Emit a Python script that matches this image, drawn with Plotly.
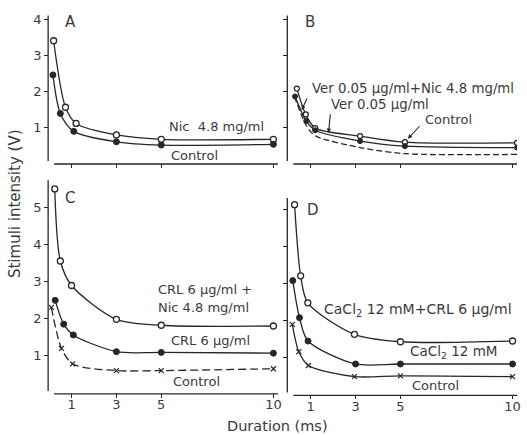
import plotly.graph_objects as go

W, H = 527, 435

# ---------------- data ----------------
# Panel A
a_nic_x = [0.2, 0.73, 1.2, 3, 5, 10]
a_nic_y = [3.4, 1.55, 1.1, 0.78, 0.66, 0.66]
a_ctl_x = [0.17, 0.5, 1.1, 3, 5, 10]
a_ctl_y = [2.45, 1.38, 0.88, 0.59, 0.5, 0.52]
# Panel B
b_top_x = [0.38, 0.78, 1.2, 3.2, 5.2, 10.2]
b_top_y = [2.07, 1.35, 0.97, 0.75, 0.58, 0.56]
b_mid_x = [0.3, 0.8, 1.2, 3.2, 5.2, 10.2]
b_mid_y = [1.85, 1.17, 0.91, 0.61, 0.47, 0.43]
b_low_x = [0.27, 0.8, 1.2, 3.2, 5.2, 10.2]
b_low_y = [1.85, 1.05, 0.76, 0.43, 0.26, 0.24]
# Panel C
c_comb_x = [0.25, 0.5, 1.0, 3, 5, 10]
c_comb_y = [5.49, 3.55, 2.89, 1.98, 1.82, 1.8]
c_crl_x = [0.27, 0.65, 1.08, 3, 5, 10]
c_crl_y = [2.49, 1.85, 1.56, 1.11, 1.09, 1.07]
c_ctl_x = [0.1, 0.55, 1.05, 3, 5, 10]
c_ctl_y = [2.3, 1.2, 0.78, 0.6, 0.6, 0.65]
# Panel D
d_comb_x = [0.28, 0.55, 0.87, 2.95, 5, 10]
d_comb_y = [5.12, 3.2, 2.47, 1.62, 1.42, 1.44]
d_ca_x = [0.2, 0.5, 0.88, 3, 5, 10]
d_ca_y = [3.07, 2.07, 1.44, 0.82, 0.82, 0.82]
d_ctl_x = [0.18, 0.47, 0.9, 2.95, 5, 10]
d_ctl_y = [1.89, 1.15, 0.78, 0.48, 0.5, 0.48]

x_ticks = [1, 3, 5, 10]
y_ticks_top = [1, 2, 3, 4]
y_ticks_bot = [1, 2, 3, 4, 5]

INK = "#262626"
TXT = "#3a3a3a"
FONT = "DejaVu Sans"

fig = go.Figure()


def add(xs, ys, ax, kind, dash="solid", msize=6):
    if kind == "open":
        marker = dict(symbol="circle", size=msize, color="white", line=dict(color=INK, width=1.3))
    elif kind == "closed":
        marker = dict(symbol="circle", size=msize, color=INK, line=dict(color=INK, width=1))
    elif kind == "x":
        marker = dict(symbol="x-thin", size=msize, color=INK, line=dict(color=INK, width=1.2))
    else:
        marker = None
    fig.add_trace(go.Scatter(
        x=xs, y=ys, xaxis="x" + ax, yaxis="y" + ax,
        mode="lines+markers" if marker else "lines",
        line=dict(color=INK, width=1.3, shape="spline", smoothing=0.8, dash=dash),
        marker=marker, showlegend=False, hoverinfo="skip"))


add(a_nic_x, a_nic_y, "", "open")
add(a_ctl_x, a_ctl_y, "", "closed")
add(b_top_x, b_top_y, "2", "open", msize=5)
add(b_mid_x, b_mid_y, "2", "closed", msize=5)
add(b_low_x, b_low_y, "2", None, dash="6px,3px")
add(c_comb_x, c_comb_y, "3", "open")
add(c_crl_x, c_crl_y, "3", "closed")
add(c_ctl_x, c_ctl_y, "3", "x", dash="8px,4px", msize=5)
add(d_comb_x, d_comb_y, "4", "open")
add(d_ca_x, d_ca_y, "4", "closed")
add(d_ctl_x, d_ctl_y, "4", "x", msize=5)

# ---------------- layout geometry (pixels) ----------------
XR = 10.2
UX = 22.6
panels = {
    # name: (x0px, y0px(bottom), unit_y, ymax)
    "": (49.5, 160.5, 36.3, 4.1),
    "2": (290.5, 160.5, 36.3, 4.1),
    "3": (49.5, 392.5, 37.5, 5.72),
    "4": (290.5, 394.0, 37.4, 5.3),
}

layout = dict(width=W, height=H, margin=dict(l=0, r=0, t=0, b=0),
              paper_bgcolor="white", plot_bgcolor="white",
              font=dict(family=FONT, color=TXT, size=13))
shapes = []
for name, (x0, yb, uy, ymax) in panels.items():
    x1 = x0 + UX * XR
    yt = yb - uy * ymax
    bottom = name in ("3", "4")
    left = name in ("", "3")
    layout["xaxis" + name] = dict(
        domain=[x0 / W, x1 / W], range=[0, XR], anchor="y" + name,
        showgrid=False, zeroline=False, showline=False,
        tickmode="array", tickvals=x_ticks, ticks="outside", ticklen=4,
        tickwidth=1.2, tickcolor=INK, showticklabels=bottom, ticklabelstandoff=-4,
        tickfont=dict(size=13, family=FONT, color=TXT))
    layout["yaxis" + name] = dict(
        domain=[1 - yb / H, 1 - yt / H], range=[0, ymax], anchor="x" + name,
        showgrid=False, zeroline=False, showline=False,
        tickmode="array", tickvals=y_ticks_bot if bottom else y_ticks_top,
        ticks="outside", ticklen=4, tickwidth=1.2, tickcolor=INK,
        showticklabels=left, tickfont=dict(size=13, family=FONT, color=TXT))
    # detached axis lines
    shapes.append(dict(type="line", xref="paper", yref="paper",
                       x0=(x0 + 5) / W, x1=x1 / W, y0=1 - (yb + 1) / H, y1=1 - (yb + 1) / H,
                       line=dict(color=INK, width=1.3)))
    shapes.append(dict(type="line", xref="paper", yref="paper",
                       x0=(x0 - 1) / W, x1=(x0 - 1) / W, y0=1 - (yb - 2) / H, y1=1 - yt / H,
                       line=dict(color=INK, width=1.3)))
layout["shapes"] = shapes


def txt(s, xpx, ypx, size=13, xanchor="left", angle=0):
    return dict(text=s, x=xpx / W, y=1 - ypx / H, xref="paper", yref="paper",
                xanchor=xanchor, yanchor="middle", showarrow=False, textangle=angle,
                font=dict(size=size, family=FONT, color=TXT))


def arrow(x0, y0, x1, y1):
    return dict(text="", x=x1 / W, y=1 - y1 / H, xref="paper", yref="paper",
                ax=x0 - x1, ay=y0 - y1, axref="pixel", ayref="pixel",
                showarrow=True, arrowhead=2, arrowsize=0.8, arrowwidth=1.1, arrowcolor=INK)


layout["annotations"] = [
    txt("A", 63, 18, 15), txt("B", 305, 18, 15), txt("C", 63, 196, 15), txt("D", 307, 208, 15),
    txt("Nic  4.8 mg/ml", 168, 124), txt("Control", 170, 153),
    txt("Ver 0.05 μg/ml+Nic 4.8 mg/ml", 312, 85, 13.3),
    txt("Ver 0.05 μg/ml", 332, 101, 13.3), txt("Control", 426, 117),
    txt("CRL 6 μg/ml +", 157, 288), txt("Nic 4.8 mg/ml", 157, 306),
    txt("CRL 6 μg/ml", 170, 340), txt("Control", 172, 381),
    txt("CaCl<sub>2</sub> 12 mM+CRL 6 μg/ml", 324, 309, 14),
    txt("CaCl<sub>2</sub> 12 mM", 411, 351, 13.5), txt("Control", 413, 385),
    txt("Stimuli intensity (V)", 15, 201, 15, xanchor="center", angle=-90),
    txt("Duration (ms)", 280, 426, 14.5, xanchor="center"),
    arrow(310, 94, 304, 107), arrow(333, 110, 331, 130), arrow(424, 122, 411, 136),
]

fig.update_layout(**layout)
fig.write_html("out.html", config={"displayModeBar": False},
               post_script="document.body.style.margin='0';document.body.style.overflow='hidden';")
